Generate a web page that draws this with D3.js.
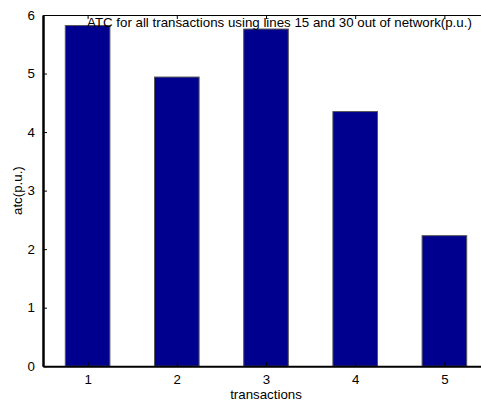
<!DOCTYPE html>
<html><head><meta charset="utf-8">
<script src="https://cdn.jsdelivr.net/npm/d3@7"></script>
<style>body{margin:0;background:#fff}svg{display:block}text{font-family:"Liberation Sans",Arial,sans-serif;fill:#000}</style>
</head><body><svg id="c" width="481" height="405"></svg>
<script>
const categories = [1, 2, 3, 4, 5];
const values = [5.82, 4.94, 5.76, 4.35, 2.23];
const yTicks = [0, 1, 2, 3, 4, 5, 6];
const title = "ATC for all transactions using lines 15 and 30 out of network(p.u.)";
const xLabel = "transactions";
const yLabel = "atc(p.u.)";

const FS = 13.3;
const svg = d3.select("#c");
const L = 43, T = 15, B = 366.2, R = 489;
const x = d3.scaleLinear().domain([0.5, 5.5]).range([L, R]);
const y = d3.scaleLinear().domain([0, 6]).range([B, T]);
const bw = x(1.5) - x(1);

svg.append("g").selectAll("rect").data(categories).join("rect")
  .attr("x", (d) => x(d) - bw / 2)
  .attr("y", (d, i) => y(values[i]))
  .attr("width", bw)
  .attr("height", (d, i) => y(0) - y(values[i]))
  .attr("fill", "#00008f")
  .attr("stroke", "#555")
  .attr("stroke-width", 1);

// bottom axis
const gx = svg.append("g").attr("transform", `translate(0,${B})`)
  .call(d3.axisBottom(x).tickValues(categories).tickFormat(d3.format("d")).tickSizeInner(-4).tickSizeOuter(0).tickPadding(8));
gx.select(".domain").attr("stroke", "#000").attr("stroke-width", 2);
gx.selectAll("text").attr("font-size", FS).attr("font-family", "Liberation Sans, Arial, sans-serif");

// top axis
const gt = svg.append("g").attr("transform", `translate(0,${T})`)
  .call(d3.axisTop(x).tickValues(categories).tickFormat("").tickSizeInner(-4).tickSizeOuter(0));
gt.select(".domain").attr("stroke", "#000").attr("stroke-width", 1);

// left axis
const gy = svg.append("g").attr("transform", `translate(${L},0)`)
  .call(d3.axisLeft(y).tickValues(yTicks).tickFormat(d3.format("d")).tickSizeInner(-4).tickSizeOuter(0).tickPadding(8));
gy.select(".domain").attr("stroke", "#000").attr("stroke-width", 2.5);
gy.selectAll("text").attr("font-size", FS).attr("font-family", "Liberation Sans, Arial, sans-serif");

svg.append("text").attr("x", 87).attr("y", 27).attr("font-size", FS).text(title);
svg.append("text").attr("x", (L + R) / 2).attr("y", 399).attr("text-anchor", "middle").attr("font-size", FS).text(xLabel);
svg.append("text").attr("transform", `translate(22,${(T + B) / 2}) rotate(-90)`).attr("text-anchor", "middle").attr("font-size", FS).text(yLabel);
</script></body></html>
